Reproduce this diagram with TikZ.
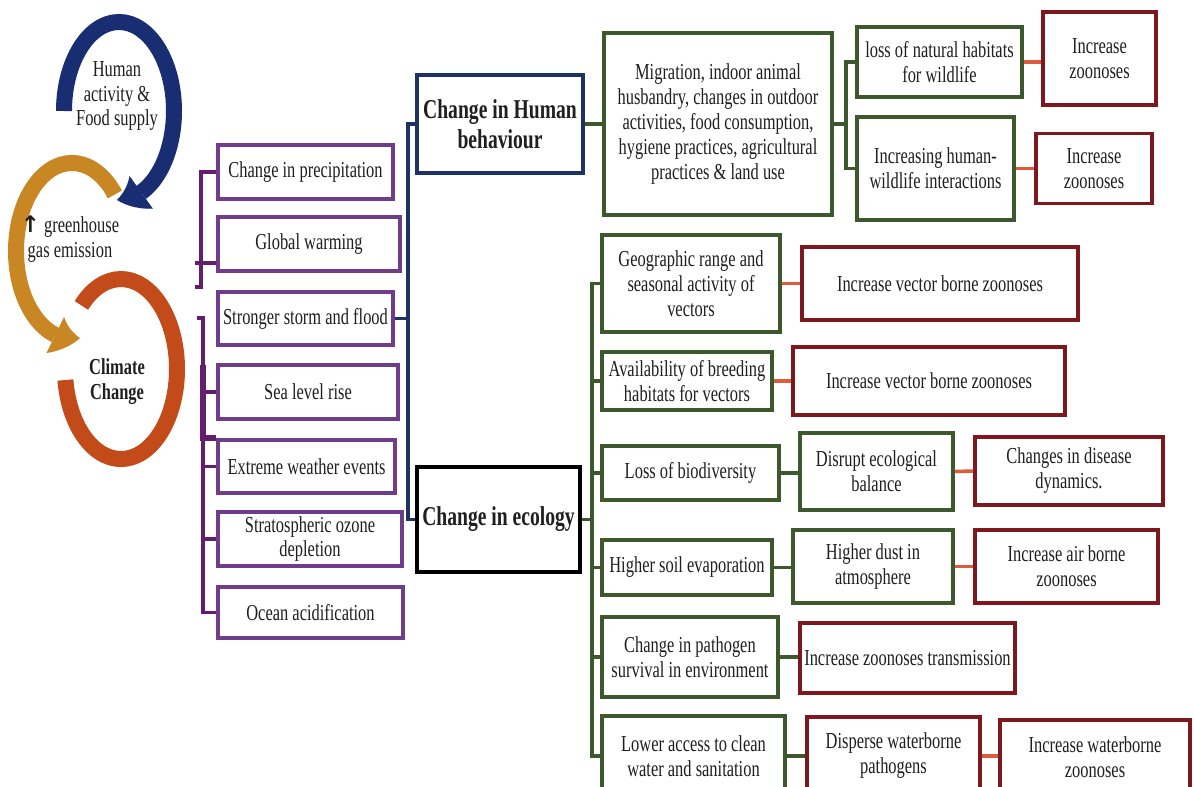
\documentclass[tikz,border=0pt]{standalone}
\usepackage{fontspec}
\setmainfont{Liberation Serif}[FakeStretch=0.72]
\newfontfamily\arrowfont{DejaVu Sans}
\usetikzlibrary{arrows.meta,bending}
\definecolor{purp}{RGB}{112,60,140}
\definecolor{plink}{RGB}{100,30,110}
\definecolor{navy}{RGB}{30,50,100}
\definecolor{grn}{RGB}{62,88,46}
\definecolor{maroon}{RGB}{125,25,30}
\definecolor{redlink}{RGB}{222,92,60}
\definecolor{cycblue}{RGB}{25,45,115}
\definecolor{cycgold}{RGB}{200,135,35}
\definecolor{cycred}{RGB}{195,75,25}

\begin{document}
\begin{tikzpicture}[x=0.02cm, y=-0.02cm,
  every node/.style={align=center, inner sep=1pt, text=black!88,
    font=\fontsize{13}{14.2}\selectfont},
  pbox/.style={draw=purp, line width=2.2pt},
  gbox/.style={draw=grn, line width=2.2pt},
  rbox/.style={draw=maroon, line width=2.2pt},
  title/.style={line width=2.4pt, font=\fontsize{15.5}{17}\selectfont\bfseries},
  pline/.style={draw=plink, line width=2pt},
  nline/.style={draw=navy, line width=2pt},
  gline/.style={draw=grn, line width=2.2pt},
  rline/.style={draw=redlink, line width=2pt},
  ring/.style={line width=0.32cm},
  ringtip/.style={-{Triangle[bend, length=0.5cm, width=0.8cm, line width=0.01pt]}}]
\useasboundingbox[fill=white] (0,0) rectangle (1194,787);

% cycle on the left
\draw[ring, cycred] (81.4,305.4) arc[start angle=225, end angle=533, x radius=56, y radius=90];
\draw[ring, ringtip, cycgold] (114.9,194.4) arc[start angle=-40, end angle=-278, x radius=56, y radius=88];
\draw[ring, ringtip, cycblue] (64,111) arc[start angle=180, end angle=452, x radius=55, y radius=89];
\node (food) at (117,96) {Human\\activity \&\\Food supply};
\node (ghg) at (70,239) {{\arrowfont\bfseries ↑} greenhouse\\gas emission};
\node[font=\fontsize{13}{14.2}\selectfont\bfseries] (climate) at (117,382) {Climate\\Change};

% climate factors
\node[pbox, minimum width=3.5cm, minimum height=1.08cm] (precip) at (305.5,172) {Change in precipitation};
\node[pbox, minimum width=3.64cm, minimum height=1.08cm] (warming) at (309,244) {Global warming};
\node[pbox, minimum width=3.5cm, minimum height=1.06cm] (storm) at (305.5,318.5) {Stronger storm and flood};
\node[pbox, minimum width=3.6cm, minimum height=1.08cm] (sealevel) at (308,392) {Sea level rise};
\node[pbox, minimum width=3.54cm, minimum height=1.06cm] (extreme) at (306.5,466.5) {Extreme weather events};
\node[pbox, minimum width=3.68cm, minimum height=1.08cm] (ozone) at (310,539) {Stratospheric ozone\\depletion};
\node[pbox, minimum width=3.7cm, minimum height=1.02cm] (ocean) at (310.5,612.5) {Ocean acidification};

\coordinate (pa) at (195,263);
\coordinate (pb) at (195,287);
\coordinate (pc) at (197,318);
\coordinate (pd) at (203,365);
\draw[pline] (precip.west) -- ++(-15,0) |- (pb);
\draw[pline] (pa) -- (pa -| warming.west);
\draw[pline] (pc) -- ++(6,0) |- (ocean.west);
\foreach \n in {sealevel,extreme,ozone}
  \draw[pline] (\n.west) -- ++(-15,0);
\draw[pline, line width=3.4pt] (pd) |- (extreme.north west);

% two kinds of change
\node[title, draw=navy, minimum width=3.32cm, minimum height=1.96cm] (human) at (500,124) {Change in Human\\behaviour};
\node[title, draw=black, minimum width=3.26cm, minimum height=2.1cm] (ecology) at (498.5,519.5) {Change in ecology};
\coordinate (nv) at (408,318.5);
\draw[nline] (storm.east) -- (nv);
\draw[nline] (human.west) -| (nv) |- (ecology.west);

% human behaviour branch
\node[gbox, minimum width=4.56cm, minimum height=3.64cm] (habits) at (718,124) {Migration, indoor animal\\husbandry, changes in outdoor\\activities, food consumption,\\hygiene practices, agricultural\\practices \& land use};
\node[gbox, minimum width=3.3cm, minimum height=1.4cm] (habitat) at (939.5,62) {loss of natural habitats\\for wildlife};
\node[gbox, minimum width=3.14cm, minimum height=2.06cm] (contact) at (935.5,168.5) {Increasing human-\\wildlife interactions};
\node[rbox, minimum width=2.26cm, minimum height=1.86cm] (zoonA) at (1099.5,58.5) {Increase\\zoonoses};
\node[rbox, minimum width=2.32cm, minimum height=1.4cm] (zoonB) at (1094,168.5) {Increase\\zoonoses};
\draw[gline] (human.east) -- (habits.west);
\draw[gline] (habits.east) -- ++(12,0) coordinate (gv);
\draw[gline] (habitat.west) -| (gv) |- (contact.west);
\draw[rline] (habitat.east) -- (habitat.east -| zoonA.west);
\draw[rline] (contact.east) -- (zoonB.west);

% ecology branch
\node[gbox, minimum width=3.56cm, minimum height=1.94cm] (vectors) at (691,283.5) {Geographic range and\\seasonal activity of\\vectors};
\node[gbox, minimum width=3.4cm, minimum height=1.16cm] (breeding) at (687,381) {Availability of breeding\\habitats for vectors};
\node[gbox, minimum width=3.54cm, minimum height=1.08cm] (biodiv) at (690.5,473) {Loss of biodiversity};
\node[gbox, minimum width=3.4cm, minimum height=1.1cm] (soil) at (687,567.5) {Higher soil evaporation};
\node[gbox, minimum width=3.52cm, minimum height=1.6cm] (survival) at (690,657) {Change in pathogen\\survival in environment};
\node[gbox, minimum width=3.66cm, minimum height=1.6cm] (water) at (693.5,756) {Lower access to clean\\water and sanitation};
\draw[gline] (ecology.east) -- ++(10,0) coordinate (ev);
\draw[gline] (vectors.west) -| (ev) |- (water.west);
\foreach \n in {breeding,biodiv,soil,survival}
  \draw[gline] (\n.west) -- (\n.west -| ev);

\node[rbox, minimum width=5.52cm, minimum height=1.46cm] (vbzA) at (940,283.5) {Increase vector borne zoonoses};
\node[rbox, minimum width=5.44cm, minimum height=1.36cm] (vbzB) at (929,381) {Increase vector borne zoonoses};
\node[gbox, minimum width=3.06cm, minimum height=1.54cm] (balance) at (876.5,471.5) {Disrupt ecological\\balance};
\node[rbox, minimum width=3.76cm, minimum height=1.36cm] (dynamics) at (1069,471) {Changes in disease\\dynamics.};
\node[gbox, minimum width=3.2cm, minimum height=1.46cm] (dust) at (873,566.5) {Higher dust in\\atmosphere};
\node[rbox, minimum width=3.66cm, minimum height=1.46cm] (airborne) at (1066.5,566.5) {Increase air borne\\zoonoses};
\node[rbox, minimum width=4.3cm, minimum height=1.4cm] (transmit) at (907.5,658) {Increase zoonoses transmission};
\node[rbox, minimum width=3.46cm, minimum height=1.56cm] (disperse) at (893.5,756) {Disperse waterborne\\pathogens};
\node[rbox, minimum width=3.8cm, minimum height=1.5cm] (wborne) at (1095,757.5) {Increase waterborne\\zoonoses};

\draw[rline] (vectors.east) -- (vbzA.west);
\draw[rline] (breeding.east) -- (vbzB.west);
\draw[gline] (biodiv.east) -- (biodiv.east -| balance.west);
\draw[rline] (balance.east) -- (dynamics.west);
\draw[gline] (soil.east) -- (soil.east -| dust.west);
\draw[rline] (dust.east) -- (airborne.west);
\draw[gline] (survival.east) -- (survival.east -| transmit.west);
\draw[gline] (water.east) -- (disperse.west);
\draw[rline] (disperse.east) -- (disperse.east -| wborne.west);
\end{tikzpicture}
\end{document}
